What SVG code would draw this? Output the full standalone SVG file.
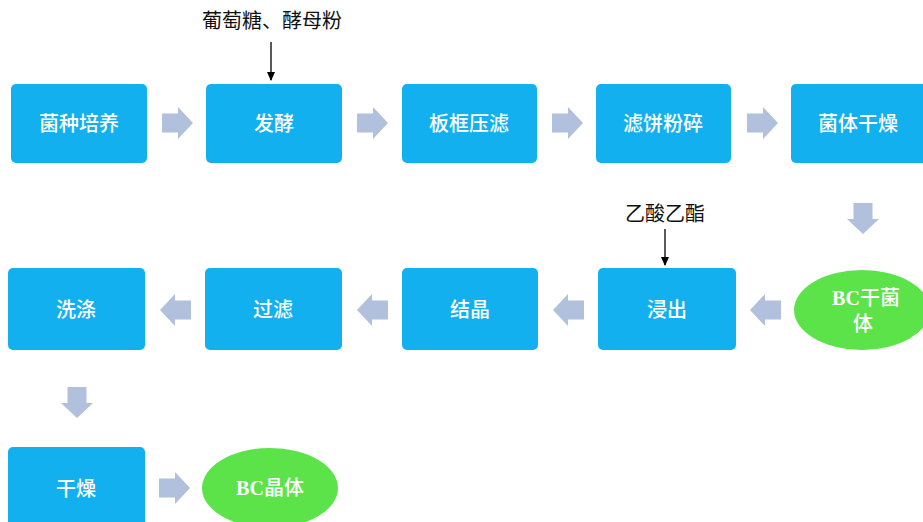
<svg xmlns="http://www.w3.org/2000/svg" xmlns:xlink="http://www.w3.org/1999/xlink" width="923" height="522" viewBox="0 0 923 522">
<style>
.box{fill:#13b0f0;}
.ell{fill:#5ce34a;}
.t{font-family:"Liberation Sans","Noto Sans CJK SC",sans-serif;font-size:20px;fill:#ffffff;text-anchor:middle;font-weight:500;}
.bc{font-family:"Liberation Serif",serif;font-weight:bold;}
.lab{font-family:"Liberation Serif","Noto Sans CJK SC",serif;font-size:20px;fill:#111;text-anchor:middle;}
.blk{fill:#b0c0dd;}
.ln{stroke:#000;stroke-width:1.3;fill:none;}
</style>
<defs>
<path id="ra" class="blk" d="M0,-9.5 H16 V-16 L31,0 L16,16 V9.5 H0 Z"/>
<marker id="ah" markerWidth="10" markerHeight="10" refX="8" refY="5" orient="auto" markerUnits="userSpaceOnUse">
<path d="M0,1 L9,5 L0,9 Z" fill="#000"/>
</marker>
</defs>
<g id="connectors">
<use xlink:href="#ra" transform="translate(162,123)"/>
<use xlink:href="#ra" transform="translate(357,123)"/>
<use xlink:href="#ra" transform="translate(552,123)"/>
<use xlink:href="#ra" transform="translate(747,123)"/>
<use xlink:href="#ra" transform="translate(863,203) rotate(90)"/>
<use xlink:href="#ra" transform="translate(781,310) rotate(180)"/>
<use xlink:href="#ra" transform="translate(584,310) rotate(180)"/>
<use xlink:href="#ra" transform="translate(388,310) rotate(180)"/>
<use xlink:href="#ra" transform="translate(191,310) rotate(180)"/>
<use xlink:href="#ra" transform="translate(77,387) rotate(90)"/>
<use xlink:href="#ra" transform="translate(159,488)"/>
<line class="ln" x1="271" y1="42" x2="271" y2="80" marker-end="url(#ah)"/>
<line class="ln" x1="665" y1="229" x2="665" y2="265" marker-end="url(#ah)"/>
</g>
<text class="lab" x="272" y="28">葡萄糖、酵母粉</text>
<text class="lab" x="665" y="221">乙酸乙酯</text>
<g id="n1"><rect class="box" x="11" y="84" width="136" height="79" rx="5"/><text class="t" x="79" y="131">菌种培养</text></g>
<g id="n2"><rect class="box" x="206" y="84" width="136" height="79" rx="5"/><text class="t" x="274" y="131">发酵</text></g>
<g id="n3"><rect class="box" x="402" y="84" width="135" height="79" rx="5"/><text class="t" x="469" y="131">板框压滤</text></g>
<g id="n4"><rect class="box" x="596" y="84" width="135" height="79" rx="5"/><text class="t" x="663" y="131">滤饼粉碎</text></g>
<g id="n5"><rect class="box" x="791" y="84" width="140" height="79" rx="5"/><text class="t" x="858" y="131">菌体干燥</text></g>
<g id="n6"><ellipse class="ell" cx="862" cy="310" rx="68" ry="40"/><text class="t" x="866" y="305"><tspan class="bc">BC</tspan>干菌</text><text class="t" x="863" y="331">体</text></g>
<g id="n7"><rect class="box" x="598" y="268" width="138" height="82" rx="5"/><text class="t" x="667" y="317">浸出</text></g>
<g id="n8"><rect class="box" x="402" y="268" width="136" height="82" rx="5"/><text class="t" x="470" y="317">结晶</text></g>
<g id="n9"><rect class="box" x="205" y="268" width="137" height="82" rx="5"/><text class="t" x="273" y="317">过滤</text></g>
<g id="n10"><rect class="box" x="8" y="268" width="137" height="82" rx="5"/><text class="t" x="76" y="317">洗涤</text></g>
<g id="n11"><rect class="box" x="8" y="447" width="137" height="85" rx="5"/><text class="t" x="76" y="496">干燥</text></g>
<g id="n12"><ellipse class="ell" cx="270" cy="488" rx="68" ry="40"/><text class="t" x="270" y="495"><tspan class="bc">BC</tspan>晶体</text></g>
</svg>
